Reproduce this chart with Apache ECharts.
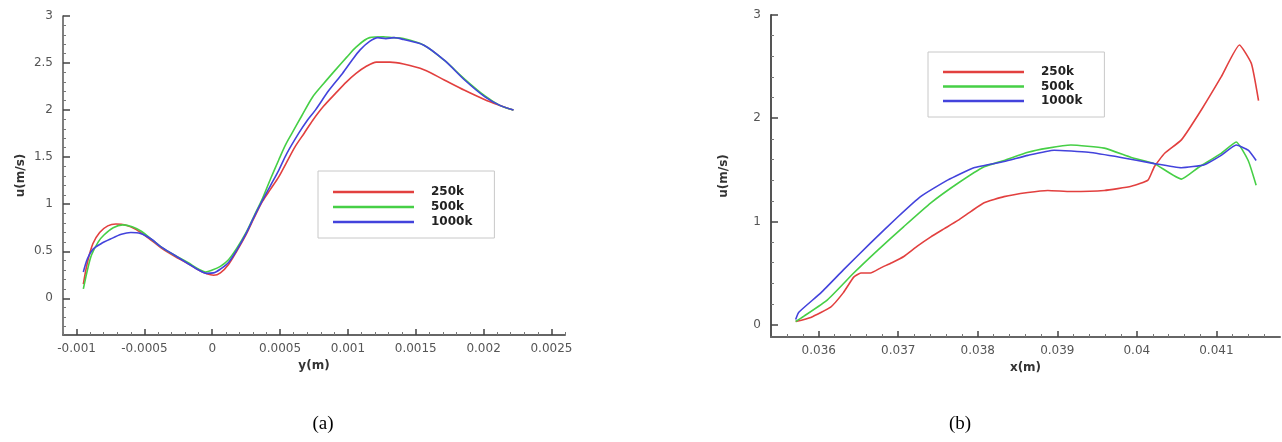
<!DOCTYPE html>
<html>
<head>
<meta charset="utf-8">
<script src="https://cdn.jsdelivr.net/npm/echarts@6/dist/echarts.min.js"></script>
<style>html,body{margin:0;padding:0;background:#fff;}#c{width:1282px;height:442px;}</style>
</head>
<body>
<div id="c"></div>
<script>
// ---- data: chart (a) u vs y ----
const a250 = [[-0.00095,0.15],[-0.00092,0.38],[-0.00088,0.58],[-0.00083,0.70],[-0.00077,0.77],[-0.00071,0.79],[-0.00064,0.78],[-0.00056,0.73],[-0.00047,0.64],[-0.00038,0.54],[-0.00028,0.45],[-0.00018,0.37],[-0.0001,0.30],[-0.00004,0.26],[0.00001,0.245],[0.00006,0.27],[0.00012,0.36],[0.00018,0.50],[0.00025,0.68],[0.00031,0.86],[0.00037,1.03],[0.00043,1.16],[0.00049,1.29],[0.00055,1.45],[0.00061,1.61],[0.00068,1.76],[0.00074,1.89],[0.00082,2.04],[0.00091,2.18],[0.00099,2.30],[0.00106,2.39],[0.00113,2.46],[0.00121,2.51],[0.00131,2.51],[0.00141,2.49],[0.00156,2.43],[0.00171,2.32],[0.00186,2.21],[0.00201,2.11],[0.00212,2.05],[0.00222,2.0]];
const a500 = [[-0.00095,0.10],[-0.00092,0.30],[-0.00089,0.46],[-0.00084,0.60],[-0.0008,0.67],[-0.00073,0.75],[-0.00066,0.78],[-0.00059,0.76],[-0.00052,0.71],[-0.00045,0.63],[-0.00038,0.55],[-0.00028,0.46],[-0.00018,0.38],[-0.0001,0.31],[-0.00005,0.28],[0.0,0.30],[0.00006,0.34],[0.00012,0.41],[0.00018,0.53],[0.00025,0.70],[0.00031,0.88],[0.00037,1.06],[0.00043,1.27],[0.00049,1.47],[0.00054,1.63],[0.00059,1.76],[0.00066,1.94],[0.00074,2.14],[0.00082,2.28],[0.00091,2.43],[0.00099,2.56],[0.00106,2.67],[0.00116,2.77],[0.00126,2.78],[0.00133,2.77],[0.00141,2.76],[0.00156,2.69],[0.00171,2.53],[0.00186,2.33],[0.00201,2.15],[0.00212,2.05],[0.00222,2.0]];
const a1000 = [[-0.00095,0.28],[-0.00092,0.42],[-0.00088,0.52],[-0.00082,0.58],[-0.00075,0.63],[-0.00067,0.68],[-0.0006,0.70],[-0.00053,0.69],[-0.00045,0.63],[-0.00038,0.55],[-0.00028,0.46],[-0.00018,0.37],[-0.0001,0.30],[-0.00004,0.265],[0.00001,0.27],[0.00006,0.31],[0.00012,0.38],[0.00018,0.51],[0.00025,0.69],[0.00031,0.87],[0.00037,1.04],[0.00043,1.20],[0.00049,1.36],[0.00055,1.54],[0.00064,1.76],[0.0007,1.89],[0.00076,2.0],[0.00086,2.21],[0.00096,2.39],[0.00103,2.53],[0.00109,2.64],[0.00116,2.73],[0.00122,2.77],[0.00128,2.76],[0.00134,2.77],[0.00141,2.75],[0.00156,2.69],[0.00171,2.53],[0.00186,2.32],[0.00201,2.14],[0.00212,2.05],[0.00222,2.0]];

// ---- data: chart (b) u vs x ----
const b250 = [[0.03571,0.03],[0.0359,0.07],[0.03615,0.17],[0.03631,0.31],[0.03644,0.46],[0.03653,0.50],[0.03665,0.50],[0.03678,0.55],[0.03692,0.60],[0.03707,0.66],[0.03724,0.76],[0.03741,0.85],[0.03758,0.93],[0.03775,1.01],[0.03792,1.10],[0.03808,1.18],[0.03833,1.24],[0.03863,1.28],[0.03888,1.30],[0.03917,1.29],[0.03959,1.30],[0.03993,1.34],[0.04014,1.40],[0.04022,1.53],[0.04035,1.66],[0.04056,1.79],[0.04081,2.08],[0.04106,2.40],[0.04129,2.71],[0.04144,2.53],[0.04153,2.17]];
const b500 = [[0.03571,0.03],[0.03581,0.08],[0.03611,0.24],[0.03644,0.50],[0.03674,0.72],[0.03707,0.95],[0.03741,1.18],[0.03775,1.37],[0.03808,1.53],[0.03833,1.59],[0.03863,1.67],[0.03888,1.71],[0.03917,1.74],[0.03959,1.71],[0.03993,1.62],[0.04022,1.56],[0.04056,1.41],[0.04077,1.52],[0.04106,1.66],[0.04125,1.77],[0.0414,1.59],[0.0415,1.35]];
const b1000 = [[0.03571,0.05],[0.03575,0.12],[0.03603,0.31],[0.03631,0.53],[0.03665,0.79],[0.03699,1.04],[0.03728,1.24],[0.03762,1.40],[0.03795,1.52],[0.03833,1.58],[0.03863,1.64],[0.03896,1.69],[0.03939,1.67],[0.0398,1.62],[0.04022,1.56],[0.04056,1.52],[0.04085,1.55],[0.04106,1.64],[0.04125,1.74],[0.0414,1.69],[0.0415,1.59]];

// ---- names and ticks ----
const seriesNames = ['250k','500k','1000k'];
const aXTicks = [-0.001,-0.0005,0,0.0005,0.001,0.0015,0.002,0.0025];
const aXMinor = [-0.0011,-0.0009,-0.0008,-0.0007,-0.0006,-0.0004,-0.0003,-0.0002,-0.0001,0.0001,0.0002,0.0003,0.0004,0.0006,0.0007,0.0008,0.0009,0.0011,0.0012,0.0013,0.0014,0.0016,0.0017,0.0018,0.0019,0.0021,0.0022,0.0023,0.0024,0.0026];
const aYTicks = [0,0.5,1,1.5,2,2.5,3];
const aYMinor = [-0.3,-0.2,-0.1,0.1,0.2,0.3,0.4,0.6,0.7,0.8,0.9,1.1,1.2,1.3,1.4,1.6,1.7,1.8,1.9,2.1,2.2,2.3,2.4,2.6,2.7,2.8,2.9];
const bXTicks = [0.036,0.037,0.038,0.039,0.04,0.041];
const bXMinor = [0.0356,0.0358,0.0362,0.0364,0.0366,0.0368,0.0372,0.0374,0.0376,0.0378,0.0382,0.0384,0.0386,0.0388,0.0392,0.0394,0.0396,0.0398,0.0402,0.0404,0.0406,0.0408,0.0412,0.0414,0.0416];
const bYTicks = [0,1,2,3];
const bYMinor = [0.2,0.4,0.6,0.8,1.2,1.4,1.6,1.8,2.2,2.4,2.6,2.8];
const colors = ['#e2403f','#46cf46','#4343dc'];

const FONT = '"DejaVu Sans", "Liberation Sans", Arial, sans-serif';
const fmt = v => String(+(+v).toFixed(6));
const labelStyle = {fontSize:12, color:'#555', fontFamily:FONT};
const nameStyle = {fontSize:12, fontWeight:'bold', color:'#333', fontFamily:FONT};

function mainX(grid, min, max, ticks, name, lineW){
  return {type:'value', gridIndex:grid, min:min, max:max, position:'bottom',
    axisLine:{show:true, onZero:false, lineStyle:{color:'#666', width:lineW}},
    axisTick:{show:true, inside:true, length:6, customValues:ticks, lineStyle:{color:'#444', width:1.5}},
    axisLabel:{show:true, customValues:ticks, formatter:fmt, margin:8, ...labelStyle},
    splitLine:{show:false}, name:name, nameLocation:'middle', nameGap:23, nameTextStyle:nameStyle};
}
function minorX(grid, min, max, ticks){
  return {type:'value', gridIndex:grid, min:min, max:max, position:'bottom',
    axisLine:{show:false, onZero:false}, axisTick:{show:true, inside:true, length:3, customValues:ticks, lineStyle:{color:'#777', width:1}},
    axisLabel:{show:false}, splitLine:{show:false}};
}
function mainY(grid, min, max, ticks, gap, lineW){
  return {type:'value', gridIndex:grid, min:min, max:max, position:'left',
    axisLine:{show:true, onZero:false, lineStyle:{color:'#555', width:lineW}},
    axisTick:{show:true, inside:true, length:7, customValues:ticks, lineStyle:{color:'#444', width:1.5}},
    axisLabel:{show:true, customValues:ticks, formatter:fmt, margin:10, ...labelStyle},
    splitLine:{show:false}, name:'u(m/s)', nameLocation:'middle', nameGap:gap, nameRotate:90, nameTextStyle:nameStyle};
}
function minorY(grid, min, max, ticks){
  return {type:'value', gridIndex:grid, min:min, max:max, position:'left',
    axisLine:{show:false, onZero:false}, axisTick:{show:true, inside:true, length:3, customValues:ticks, lineStyle:{color:'#777', width:1}},
    axisLabel:{show:false}, splitLine:{show:false}};
}

const aData = [a250, a500, a1000];
const bData = [b250, b500, b1000];
const series = [];
seriesNames.forEach((n,i)=>{
  series.push({name:n, type:'line', xAxisIndex:0, yAxisIndex:0, data:aData[i], symbol:'none', smooth:0.3,
    lineStyle:{color:colors[i], width:1.6}, itemStyle:{color:colors[i]}, z:2+i});
});
seriesNames.forEach((n,i)=>{
  series.push({name:n, type:'line', xAxisIndex:2, yAxisIndex:2, data:bData[i], symbol:'none', smooth:0.15,
    lineStyle:{color:colors[i], width:1.6}, itemStyle:{color:colors[i]}, z:2+i});
});

const legendBase = {orient:'vertical', data:seriesNames, itemWidth:93, itemHeight:14,
  icon:'path://M0,0 L81,0 L81,2.4 L0,2.4 Z M93,0 L93.01,0 L93.01,0.01 Z', backgroundColor:'#fff',
  borderColor:'#c8c8c8', borderWidth:1, textStyle:{fontSize:12, fontWeight:'bold', color:'#222', fontFamily:FONT, lineHeight:14},
  selectedMode:false};

const chart = echarts.init(document.getElementById('c'), null, {renderer:'canvas'});
chart.setOption({
  animation:false,
  backgroundColor:'#fff',
  grid:[
    {left:63, top:16, width:502, height:319},
    {left:771, top:15, width:509, height:322}
  ],
  xAxis:[
    mainX(0, -0.0011, 0.0026, aXTicks, 'y(m)', 2),
    minorX(0, -0.0011, 0.0026, aXMinor),
    mainX(1, 0.0354, 0.0418, bXTicks, 'x(m)', 2),
    minorX(1, 0.0354, 0.0418, bXMinor)
  ],
  yAxis:[
    mainY(0, -0.39, 3, aYTicks, 36, 1.5),
    minorY(0, -0.39, 3, aYMinor),
    mainY(1, -0.12, 3, bYTicks, 41, 2),
    minorY(1, -0.12, 3, bYMinor)
  ],
  legend:[
    Object.assign({}, legendBase, {left:318, top:171, padding:[14,22,9,15], itemGap:1}),
    Object.assign({}, legendBase, {left:928, top:52, padding:[13,22,9,15], itemGap:0.5})
  ],
  graphic:[
    {type:'text', x:323, y:424, style:{text:'(a)', font:'19px "Liberation Serif", "Times New Roman", serif', fill:'#000', textAlign:'center', textVerticalAlign:'middle'}},
    {type:'text', x:960, y:424, style:{text:'(b)', font:'19px "Liberation Serif", "Times New Roman", serif', fill:'#000', textAlign:'center', textVerticalAlign:'middle'}}
  ],
  series:series
});
</script>
</body>
</html>
